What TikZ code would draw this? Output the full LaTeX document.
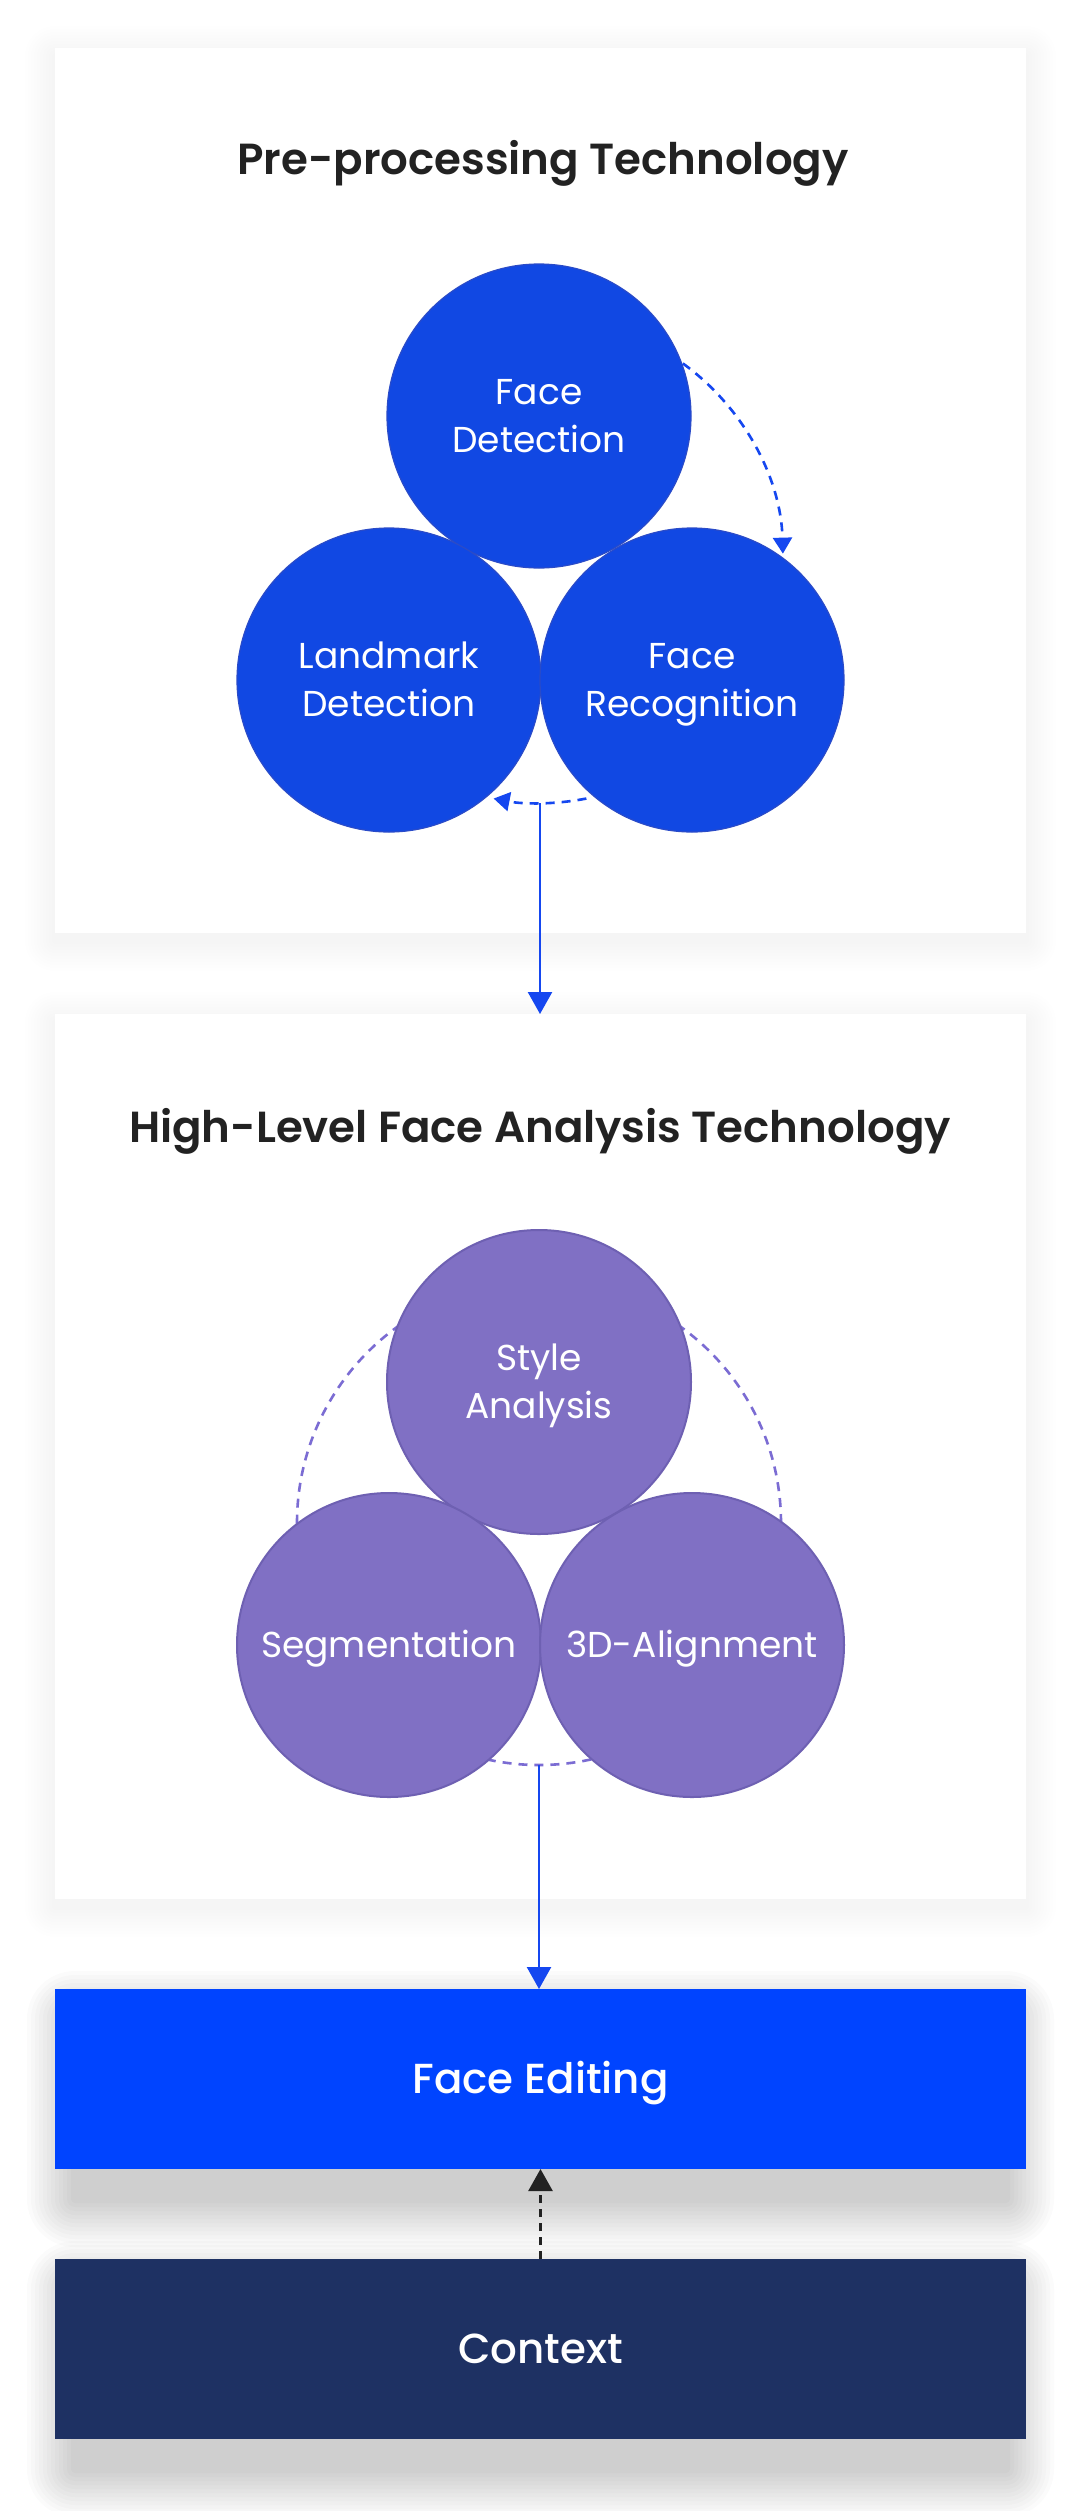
\documentclass[tikz,border=0pt]{standalone}
\usepackage{fontspec}
\setmainfont{Poppins}[BoldFont={Poppins SemiBold}]
\newfontfamily\medfont{Poppins Medium}
\usetikzlibrary{arrows.meta,calc}
\pgfdeclarelayer{bg}
\pgfsetlayers{bg,main}
\definecolor{cblue}{HTML}{1148E3}
\definecolor{cblueedge}{HTML}{2A4BC8}
\definecolor{cpurple}{HTML}{8070C4}
\definecolor{cpurpleedge}{HTML}{6E60B2}
\definecolor{cdashp}{HTML}{7B6CD3}
\definecolor{lineblue}{HTML}{1547F0}
\definecolor{feblue}{HTML}{0044FF}
\definecolor{ctxnavy}{HTML}{1E3163}
\definecolor{titlec}{HTML}{222222}
% #1 node, #2 vertical offset, #3 spread step, #4 opacity per layer, #5 horizontal inset, #6 layers
\newcommand\dropshade[6]{%
  \foreach \i in {1,...,#6}{%
    \fill[black, opacity=#4, rounded corners=\i*#3*1pt]
      ($(#1.north west)+(-\i*#3+#5,\i*#3-#2)$) rectangle ($(#1.south east)+(\i*#3-#5,-\i*#3-#2)$);
  }}
\begin{document}
\begin{tikzpicture}[x=1pt,y=1pt,
  panel/.style={rectangle, fill=white, inner sep=0pt, outer sep=0pt, anchor=north west,
    minimum width=971, minimum height=885},
  bar/.style={rectangle, inner sep=0pt, outer sep=0pt, anchor=north west,
    minimum width=971, minimum height=180, text=white, text height=29pt, text depth=0pt,
    font=\medfont\fontsize{42}{50}\selectfont},
  ttl/.style={anchor=base, text=titlec, font=\bfseries\fontsize{43.5}{52}\selectfont},
  circ/.style={circle, minimum size=304, inner sep=0pt, outer sep=0pt, text=white, align=center,
    font=\fontsize{36}{48}\selectfont, text height=25pt, text depth=0pt},
  two/.style={text height=73pt, text depth=0pt},
  bcirc/.style={circ, fill=cblue, draw=cblueedge, line width=1.2pt},
  pcirc/.style={circ, fill=cpurple, draw=cpurpleedge, line width=2pt},
  dasharc/.style={draw=lineblue, line width=2.6pt, dash pattern=on 9pt off 7pt,
    -{Triangle[length=16pt,width=19pt]}},
  pdash/.style={draw=cdashp, line width=2.6pt, dash pattern=on 9pt off 7pt},
  flow/.style={draw=lineblue, line width=2.4pt, -{Triangle[length=22pt,width=24pt]}},
  ctxflow/.style={draw=titlec, line width=2.6pt, dash pattern=on 8pt off 6pt,
    -{Triangle[length=22pt,width=24pt]}}
]
\useasboundingbox (0,0) rectangle (1080,-2511);

% panels
\node[panel] (p1) at (55,-48) {};
\node[panel] (p2) at (55,-1014) {};
\node[bar, fill=feblue] (fe) at (55,-1989) {Face Editing};
\node[bar, fill=ctxnavy] (ctx) at (55,-2259) {Context};

\begin{pgfonlayer}{bg}
  \fill[white] (0,0) rectangle (1080,-2511);
  \dropshade{p1}{8}{3}{0.0045}{0}{10}
  \dropshade{p2}{8}{3}{0.0045}{0}{10}
  \dropshade{fe}{30}{4}{0.0145}{20}{12}
  \dropshade{ctx}{30}{4}{0.0145}{20}{12}
\end{pgfonlayer}

% titles
\node[ttl] (t1) at (543,-174) {Pre-processing Technology};
\node[ttl] (t2) at (540,-1142) {High-Level Face Analysis Technology};

% panel 1 circles
\node[bcirc, two] (fd) at (539,-416) {Face\\Detection};
\node[bcirc, two] (ld) at (389,-680) {Landmark\\Detection};
\node[bcirc, two] (fr) at (692,-680) {Face\\Recognition};

\coordinate (o1) at (540,-560);
\draw[dasharc] ($(o1)+(54:243)$) arc[start angle=54, end angle=1.5, radius=243];
\draw[dasharc] ($(o1)+(-79:243)$) arc[start angle=-79, end angle=-101, radius=243];
\coordinate (a1b) at ($(o1)+(-90:243)$);
\draw[flow] (a1b) -- (a1b |- p2.north);

% panel 2
\coordinate (o2) at (539,-1523);
\draw[pdash] (o2) circle[radius=242];
\node[pcirc, two] (sa) at (539,-1382) {Style\\Analysis};
\node[pcirc] (sg) at (389,-1645) {Segmentation};
\node[pcirc] (al) at (692,-1645) {3D-Alignment};
\coordinate (a2b) at ($(o2)+(-90:242)$);
\draw[flow] (a2b) -- (a2b |- fe.north);

% context to face editing
\draw[ctxflow] (ctx.north) -- (fe.south);
\end{tikzpicture}
\end{document}
